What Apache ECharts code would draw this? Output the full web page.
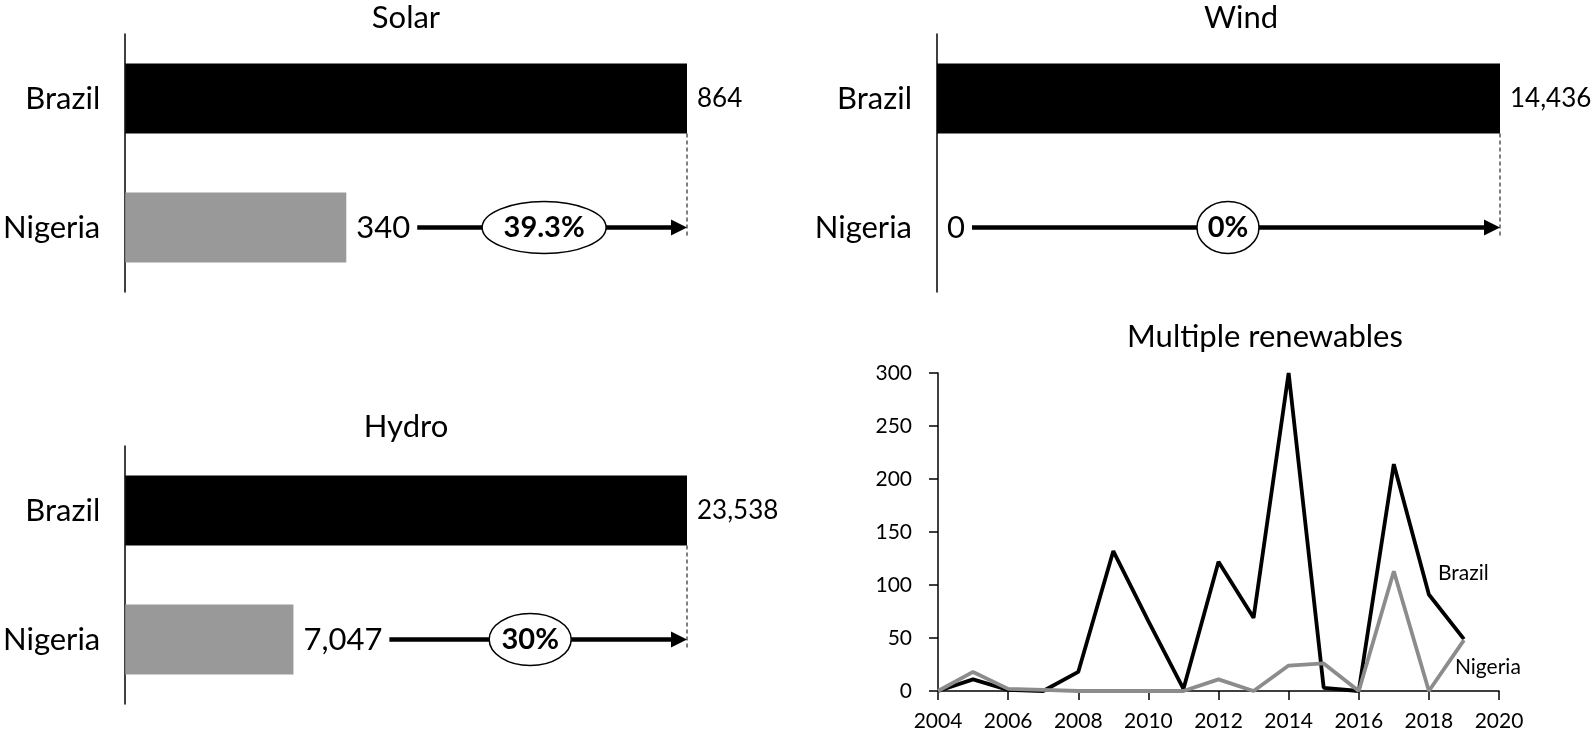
<!DOCTYPE html>
<html>
<head>
<meta charset="utf-8">
<script src="https://cdn.jsdelivr.net/npm/echarts@6/dist/echarts.min.js"></script>
<style>
  html, body { margin: 0; padding: 0; background: #fff; }
  #main { width: 1592px; height: 732px; }
</style>
</head>
<body>
<div id="main"></div>
<script>
// data
var countries = ['Brazil', 'Nigeria'];
var solarValues = [864, 340];
var windValues = [14436, 0];
var hydroValues = [23538, 7047];
var shareLabels = ['39.3%', '0%', '30%'];

var years = [2004, 2005, 2006, 2007, 2008, 2009, 2010, 2011, 2012, 2013, 2014, 2015, 2016, 2017, 2018, 2019];
var brazilMulti = [0, 11, 1, 0, 18, 132, 66, 2, 122, 69, 300, 3, 0, 214, 91, 49];
var nigeriaMulti = [0, 18, 2, 1, 0, 0, 0, 0, 11, 0, 24, 26, 0, 113, 0, 48];

var FONT = 'Lato';
var barColors = ['#000000', '#999999'];

var chart = echarts.init(document.getElementById('main'));

// one bar panel per energy type
var panels = [
    { title: 'Solar', values: solarValues, share: shareLabels[0], grid: { left: 124, top: 34, width: 563, height: 258 }, titleX: 406, titleY: 2, rx: 62 },
    { title: 'Wind', values: windValues, share: shareLabels[1], grid: { left: 937, top: 34, width: 563, height: 258 }, titleX: 1241, titleY: 2, rx: 31 },
    { title: 'Hydro', values: hydroValues, share: shareLabels[2], grid: { left: 124, top: 446, width: 563, height: 258 }, titleX: 406, titleY: 411, rx: 41 }
];

var titles = [], grids = [], xAxes = [], yAxes = [], series = [];

panels.forEach(function (p, i) {
    titles.push({
        text: p.title, left: p.titleX, top: p.titleY, textAlign: 'center', padding: 0,
        textStyle: { fontFamily: FONT, fontSize: 31, fontWeight: 'normal', color: '#000' }
    });
    grids.push(p.grid);
    xAxes.push({ gridIndex: i, type: 'value', min: 0, max: p.values[0], show: false });
    yAxes.push({
        gridIndex: i, type: 'category', data: countries, inverse: true,
        axisLine: { lineStyle: { color: '#000', width: 1.5 } },
        axisTick: { show: false },
        axisLabel: { fontFamily: FONT, fontSize: 31, color: '#000', margin: 25 }
    });
    series.push({
        type: 'bar', xAxisIndex: i, yAxisIndex: i, barWidth: 70,
        silent: true,
        data: p.values.map(function (v, k) {
            return {
                value: v,
                itemStyle: { color: barColors[k] },
                label: { fontSize: k === 0 ? 26 : 31 }
            };
        }),
        label: {
            show: true, position: 'right', distance: 10, color: '#000', fontFamily: FONT,
            formatter: function (d) { return d.value.toLocaleString('en-US'); }
        }
    });
});

// line panel
var li = panels.length;
titles.push({
    text: 'Multiple renewables', left: 1265, top: 321, textAlign: 'center', padding: 0,
    textStyle: { fontFamily: FONT, fontSize: 31, fontWeight: 'normal', color: '#000' }
});
grids.push({ left: 938, top: 373, width: 561, height: 319 });
xAxes.push({
    gridIndex: li, type: 'value', min: 2004, max: 2020, interval: 2,
    axisLine: { show: true, lineStyle: { color: '#000', width: 1.5 } },
    axisTick: { show: true, length: 9, lineStyle: { color: '#000', width: 1.5 } },
    axisLabel: { fontFamily: FONT, fontSize: 21, color: '#000', margin: 20, formatter: function (v) { return String(v); } },
    splitLine: { show: false }
});
yAxes.push({
    gridIndex: li, type: 'value', min: 0, max: 300, interval: 50,
    axisLine: { show: true, lineStyle: { color: '#000', width: 1.5 } },
    axisTick: { show: true, length: 9, lineStyle: { color: '#000', width: 1.5 } },
    axisLabel: { fontFamily: FONT, fontSize: 21, color: '#000', margin: 26 },
    splitLine: { show: false }
});
series.push({
    name: 'Brazil', type: 'line', xAxisIndex: li, yAxisIndex: li, showSymbol: false, silent: true,
    lineStyle: { color: '#000', width: 3.8 },
    data: years.map(function (y, k) { return [y, brazilMulti[k]]; })
});
series.push({
    name: 'Nigeria', type: 'line', xAxisIndex: li, yAxisIndex: li, showSymbol: false, silent: true,
    lineStyle: { color: '#8c8c8c', width: 3.8 },
    data: years.map(function (y, k) { return [y, nigeriaMulti[k]]; })
});

chart.setOption({
    animation: false,
    title: titles,
    grid: grids,
    xAxis: xAxes,
    yAxis: yAxes,
    series: series
});

// annotations: arrow from Nigeria value to Brazil value, with share ellipse
var ctx = document.createElement('canvas').getContext('2d');
function textWidth(str, size, weight) {
    ctx.font = (weight || 'normal') + ' ' + size + 'px ' + FONT;
    return ctx.measureText(str).width;
}

var graphics = [];
panels.forEach(function (p, i) {
    var bra = chart.convertToPixel({ gridIndex: i }, [p.values[0], countries[0]]);
    var nig = chart.convertToPixel({ gridIndex: i }, [p.values[1], countries[1]]);
    var y = nig[1];
    var x0 = nig[0] + 10 + textWidth(p.values[1].toLocaleString('en-US'), 31) + 7;
    var tip = bra[0];
    graphics.push({
        type: 'line', z: 10,
        shape: { x1: x0, y1: y, x2: tip - 12, y2: y },
        style: { stroke: '#000', lineWidth: 4.5 }
    });
    graphics.push({
        type: 'polygon', z: 10,
        shape: { points: [[tip, y], [tip - 16, y - 8], [tip - 16, y + 8]] },
        style: { fill: '#000' }
    });
    graphics.push({
        type: 'line', z: 9,
        shape: { x1: tip, y1: bra[1] + 35, x2: tip, y2: y + 8 },
        style: { stroke: '#000', lineWidth: 1, lineDash: [4, 3] }
    });
    var cx = (x0 + tip) / 2 - 8;
    graphics.push({
        type: 'ellipse', z: 11,
        shape: { cx: cx, cy: y, rx: p.rx, ry: 26 },
        style: { fill: '#fff', stroke: '#000', lineWidth: 1.5 }
    });
    graphics.push({
        type: 'text', z: 12, x: cx, y: y,
        style: {
            text: p.share, fontFamily: FONT, fontSize: 29, fontWeight: 'bold', fill: '#000',
            align: 'center', verticalAlign: 'middle'
        }
    });
});

// series name labels next to the lines
var bPt = chart.convertToPixel({ gridIndex: li }, [years[14], brazilMulti[14]]);
var nPt = chart.convertToPixel({ gridIndex: li }, [years[15], nigeriaMulti[15]]);
graphics.push({
    type: 'text', x: bPt[0] + 9, y: bPt[1] - 21,
    style: { text: 'Brazil', fontFamily: FONT, fontSize: 21, fill: '#000', align: 'left', verticalAlign: 'middle' }
});
graphics.push({
    type: 'text', x: nPt[0] - 9, y: nPt[1] + 27,
    style: { text: 'Nigeria', fontFamily: FONT, fontSize: 21, fill: '#000', align: 'left', verticalAlign: 'middle' }
});

chart.setOption({ graphic: graphics });
</script>
</body>
</html>
